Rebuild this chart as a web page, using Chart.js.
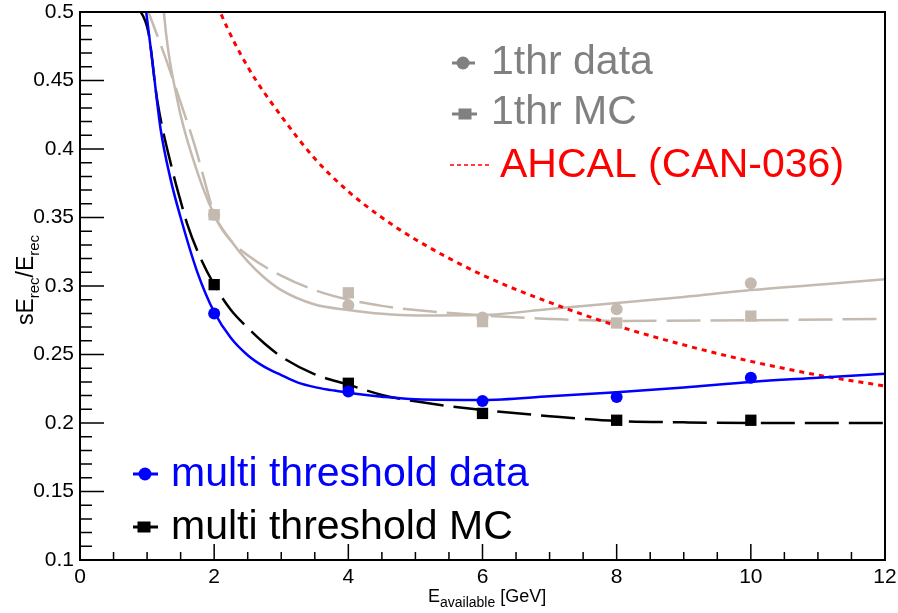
<!DOCTYPE html>
<html><head><meta charset="utf-8">
<script src="https://cdn.jsdelivr.net/npm/chart.js@4"></script>
<style>html,body{margin:0;padding:0;background:#fff;} canvas{display:block;}</style>
</head><body>
<canvas id="c" width="898" height="613"></canvas>
<script>
// ---- measured points ----
const energies   = [2, 4, 6, 8, 10];
const multiData  = [0.280, 0.223, 0.216, 0.219, 0.233];
const multiMC    = [0.301, 0.229, 0.207, 0.202, 0.202];
const thr1Data   = [0.352, 0.286, 0.277, 0.283, 0.302];
const thr1MC     = [0.352, 0.295, 0.274, 0.273, 0.278];

// ---- fitted curves ----
const multiDataFitE = [0.9, 1.0, 1.1, 1.2, 1.35, 1.5, 1.75, 2, 2.25, 2.5, 2.75, 3, 3.25, 3.5, 3.75, 4, 4.5, 5, 6, 7, 8, 9, 10, 11, 12];
const multiDataFitV = [0.53, 0.495, 0.455, 0.415, 0.378, 0.35, 0.31, 0.281, 0.262, 0.2495, 0.241, 0.235, 0.2295, 0.2262, 0.224, 0.222, 0.2192, 0.2173, 0.2168, 0.2195, 0.2225, 0.226, 0.230, 0.233, 0.236];

const multiMCFitE = [0.85, 1.02, 1.15, 1.39, 1.5, 1.6, 1.8, 2, 2.25, 2.5, 2.75, 3, 3.5, 4, 4.5, 5, 6, 7, 8, 9, 10, 11, 12];
const multiMCFitV = [0.505, 0.485, 0.436, 0.382, 0.362, 0.345, 0.32, 0.301, 0.2825, 0.2695, 0.258, 0.2485, 0.2355, 0.228, 0.2205, 0.2158, 0.2095, 0.205, 0.2015, 0.2005, 0.200, 0.200, 0.200];

const thr1DataFitE = [1.2, 1.25, 1.45, 1.69, 2, 2.25, 2.5, 2.75, 3, 3.5, 4, 4.5, 5, 6, 7, 8, 9, 10, 11, 12];
const thr1DataFitV = [0.54, 0.5, 0.436, 0.392, 0.352, 0.333, 0.318, 0.306, 0.297, 0.2865, 0.2825, 0.2797, 0.2785, 0.2788, 0.2832, 0.2876, 0.292, 0.297, 0.301, 0.305];

const thr1MCFitE = [0.98, 1.02, 1.12, 1.3, 1.5, 1.72, 1.94, 2, 2.2, 2.5, 3, 3.5, 4, 4.5, 5, 6, 7, 8, 10, 12];
const thr1MCFitV = [0.505, 0.5, 0.487, 0.463, 0.434, 0.401, 0.362, 0.352, 0.336, 0.3225, 0.3075, 0.297, 0.290, 0.2855, 0.2825, 0.2785, 0.276, 0.2745, 0.275, 0.276];

const ahcalE = [2.0, 2.09, 2.5, 3, 3.5, 4, 4.5, 5, 6, 7, 8, 9, 10, 11, 12];
const ahcalV = [0.512, 0.5, 0.46, 0.424, 0.393, 0.369, 0.350, 0.334, 0.308, 0.288, 0.271, 0.257, 0.245, 0.235, 0.227];

// ---- axes ----
const xTicks = [0, 2, 4, 6, 8, 10, 12];
const yTicks = [0.1, 0.15, 0.2, 0.25, 0.3, 0.35, 0.4, 0.45, 0.5];
const yTickLabels = ['0.1', '0.15', '0.2', '0.25', '0.3', '0.35', '0.4', '0.45', '0.5'];

const legendTop = ['1thr data', '1thr MC', 'AHCAL (CAN-036)'];
const legendBottom = ['multi threshold data', 'multi threshold MC'];

const FONT = "'Liberation Sans', Arial, Helvetica, sans-serif";
const GRAYLINE = 'rgb(196,186,176)';
const GRAYTEXT = 'rgb(128,128,128)';

const zip = (xs, ys) => xs.map((x, i) => ({x: x, y: ys[i]}));

function curve(xs, ys, color, dash, width) {
  return {data: zip(xs, ys), borderColor: color, borderWidth: width, borderDash: dash,
    pointRadius: 0, showLine: true, fill: false, cubicInterpolationMode: 'monotone'};
}
function pts(ys, color, style, r) {
  return {data: zip(energies, ys), showLine: false, pointStyle: style, pointRadius: r,
    pointBackgroundColor: color, pointBorderColor: color, pointBorderWidth: 0, borderColor: color};
}

const decor = {
  id: 'decor',
  afterDatasetsDraw(chart) {
    const ctx = chart.ctx, xs = chart.scales.x, ys = chart.scales.y, a = chart.chartArea;
    ctx.save();
    // ticks
    ctx.strokeStyle = '#000'; ctx.lineWidth = 1.5;
    ctx.beginPath();
    for (let v = 0; v <= 12.0001; v += 0.5) {
      const px = xs.getPixelForValue(v);
      const len = (Math.abs(v / 2 - Math.round(v / 2)) < 1e-6) ? 16 : 8;
      ctx.moveTo(px, a.bottom); ctx.lineTo(px, a.bottom - len);
    }
    for (let i = 0; i <= 40; i++) {
      const v = 0.1 + i * 0.01;
      const py = ys.getPixelForValue(v);
      const len = (i % 5 === 0) ? 24 : 12;
      ctx.moveTo(a.left, py); ctx.lineTo(a.left + len, py);
    }
    ctx.stroke();
    // frame
    ctx.lineWidth = 2;
    ctx.strokeRect(a.left, a.top, a.right - a.left, a.bottom - a.top);

    // legends
    ctx.textBaseline = 'alphabetic';
    ctx.textAlign = 'left';
    ctx.font = '41px ' + FONT;
    function marker(x, y, color, type, x0, x1) {
      ctx.strokeStyle = color; ctx.fillStyle = color; ctx.lineWidth = 3; ctx.setLineDash([]);
      ctx.beginPath(); ctx.moveTo(x0, y); ctx.lineTo(x1, y); ctx.stroke();
      if (type === 'circle') { ctx.beginPath(); ctx.arc(x, y, 6.5, 0, Math.PI * 2); ctx.fill(); }
      else { ctx.fillRect(x - 6.5, y - 5.5, 13, 11); }
    }
    marker(463, 63, GRAYTEXT, 'circle', 452, 475);
    ctx.fillStyle = GRAYTEXT; ctx.fillText(legendTop[0], 491, 74);
    marker(465, 114, GRAYTEXT, 'rect', 452, 477);
    ctx.fillStyle = GRAYTEXT; ctx.fillText(legendTop[1], 491, 124);
    ctx.strokeStyle = 'red'; ctx.lineWidth = 1.5; ctx.setLineDash([4, 3]);
    ctx.beginPath(); ctx.moveTo(450, 165); ctx.lineTo(489, 165); ctx.stroke();
    ctx.setLineDash([]);
    ctx.fillStyle = 'red'; ctx.fillText(legendTop[2], 500, 177);

    marker(145, 474, '#0000ff', 'circle', 133, 158);
    ctx.fillStyle = '#0000ff'; ctx.fillText(legendBottom[0], 171, 486);
    marker(144, 527, '#000', 'rect', 133, 158);
    ctx.fillStyle = '#000'; ctx.fillText(legendBottom[1], 171, 539);

    // x title
    ctx.fillStyle = '#000';
    let x = 428;
    ctx.font = '18px ' + FONT; ctx.fillText('E', x, 602); x += ctx.measureText('E').width;
    ctx.font = '14px ' + FONT; ctx.fillText('available', x, 607); x += ctx.measureText('available').width;
    ctx.font = '18px ' + FONT; ctx.fillText(' [GeV]', x, 602);

    // y title (rotated)
    const parts = [['s', 23, 0], ['E', 23, 0], ['rec', 15, 6], ['/E', 23, 0], ['rec', 15, 6]];
    let total = 0;
    parts.forEach(p => { ctx.font = p[1] + 'px ' + FONT; total += ctx.measureText(p[0]).width; });
    ctx.translate(33, 280);
    ctx.rotate(-Math.PI / 2);
    let px = -total / 2;
    parts.forEach(p => { ctx.font = p[1] + 'px ' + FONT; ctx.fillText(p[0], px, p[2]); px += ctx.measureText(p[0]).width; });
    ctx.restore();
  }
};

new Chart(document.getElementById('c'), {
  type: 'line',
  data: {
    datasets: [
      pts(multiData, '#0000ff', 'circle', 6),
      pts(multiMC, '#000000', 'rect', 8),
      pts(thr1MC, GRAYLINE, 'rect', 8),
      pts(thr1Data, GRAYLINE, 'circle', 6),
      curve(multiDataFitE, multiDataFitV, '#0000ff', [], 2.5),
      curve(multiMCFitE, multiMCFitV, '#000000', [34, 10], 2.5),
      curve(ahcalE, ahcalV, '#ff0000', [5, 5], 3),
      curve(thr1DataFitE, thr1DataFitV, GRAYLINE, [], 2.5),
      curve(thr1MCFitE, thr1MCFitV, GRAYLINE, [34, 10], 2.5)
    ]
  },
  options: {
    responsive: false,
    devicePixelRatio: 1,
    animation: false,
    events: [],
    layout: {padding: {top: 12, right: 13, left: 0, bottom: 0}},
    plugins: {legend: {display: false}, tooltip: {enabled: false}, title: {display: false}},
    scales: {
      x: {
        type: 'linear', min: 0, max: 12,
        afterFit: s => { s.height = 53; s.paddingLeft = 0; s.paddingRight = 0; },
        afterBuildTicks: s => { s.ticks = xTicks.map(v => ({value: v})); },
        grid: {display: false, drawTicks: false},
        border: {display: false},
        ticks: {padding: 5, color: '#000', font: {size: 21, family: FONT}, maxRotation: 0, autoSkip: false,
          callback: v => String(v)}
      },
      y: {
        type: 'linear', min: 0.1, max: 0.5,
        afterFit: s => { s.width = 80; s.paddingTop = 0; s.paddingBottom = 0; },
        afterBuildTicks: s => { s.ticks = yTicks.map(v => ({value: v})); },
        grid: {display: false, drawTicks: false},
        border: {display: false},
        ticks: {padding: 6, color: '#000', font: {size: 21, family: FONT}, autoSkip: false,
          callback: (v, i) => yTickLabels[i]}
      }
    }
  },
  plugins: [decor]
});
</script>
</body></html>
